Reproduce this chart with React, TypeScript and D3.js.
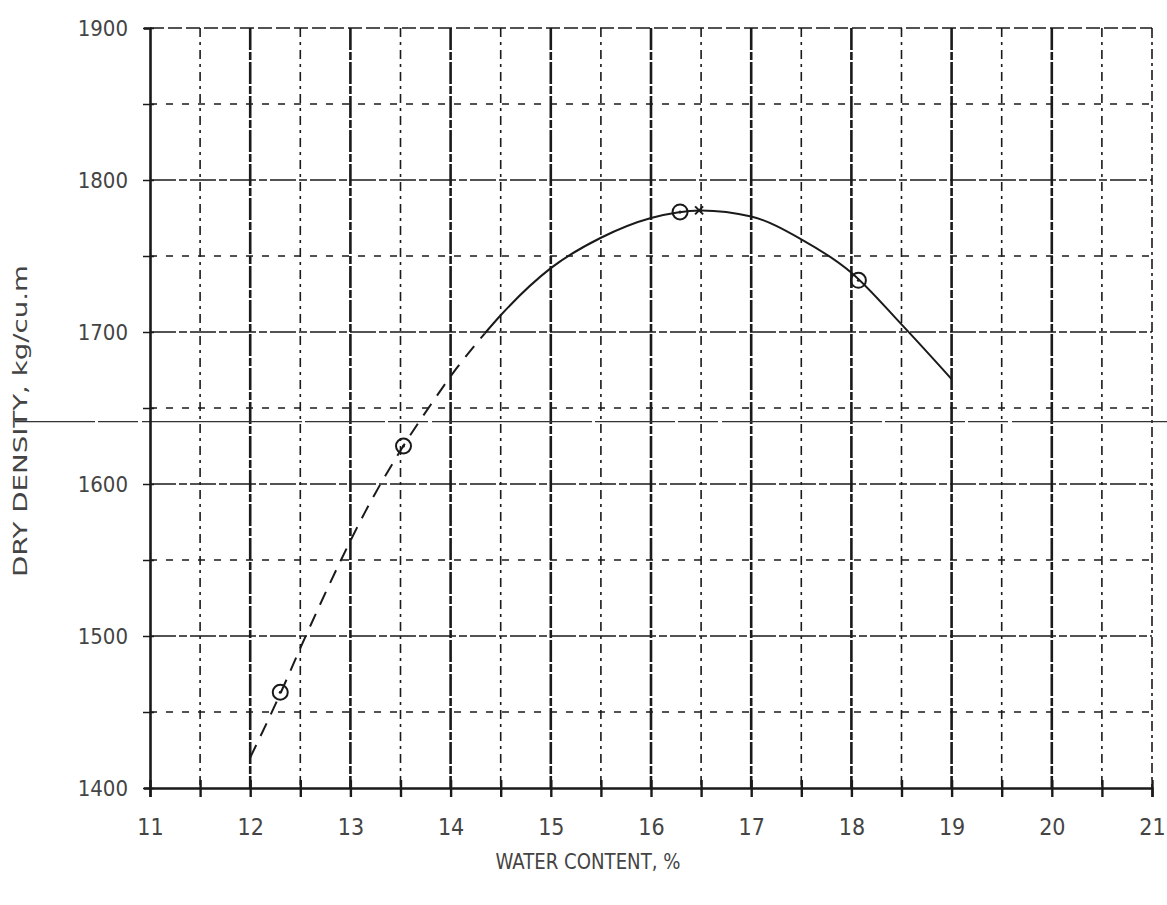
import React, { useRef, useEffect } from "react";
import * as d3 from "d3";

// axis ticks
const waterTicks = [11, 12, 13, 14, 15, 16, 17, 18, 19, 20, 21];
const waterHalfTicks = [11.5, 12.5, 13.5, 14.5, 15.5, 16.5, 17.5, 18.5, 19.5, 20.5];
const densityTicks = [1400, 1500, 1600, 1700, 1800, 1900];
const densityHalfTicks = [1450, 1550, 1650, 1750, 1850];

// compaction curve, dashed (extrapolated) part and solid part
const dashedWater = [12.0, 12.3, 12.5, 12.87, 13.15, 13.5, 13.8, 14.07, 14.34];
const dashedDensity = [1420, 1462, 1492, 1545, 1582, 1622, 1652, 1677, 1699];
const solidWater = [14.34, 14.5, 15, 15.5, 16, 16.5, 17, 17.5, 18, 18.5, 19];
const solidDensity = [1699, 1711, 1742, 1762, 1775, 1780, 1776, 1761, 1739, 1705, 1669];

// test points
const pointWater = [12.3, 13.53, 16.29, 18.07];
const pointDensity = [1463, 1625, 1779, 1734];

// maximum dry density
const maxWater = [16.48];
const maxDensity = [1780];

// the scan has a fold line running across the sheet
const foldDensity = 1641;

const App = () => {
  const svgRef = useRef<SVGSVGElement>(null);

  useEffect(() => {
    document.body.style.margin = "0";
    const w = 1167;
    const h = 905;
    const svg = d3.select(svgRef.current).attr("width", w).attr("height", h);
    svg.selectAll("*").remove();

    const x = d3.scaleLinear().domain([11, 21]).range([150, 1152]);
    const y = d3.scaleLinear().domain([1400, 1900]).range([788, 28]);
    const ink = "#1a1a1a";
    const font = "'DejaVu Sans Condensed', 'DejaVu Sans', sans-serif";

    svg.append("rect").attr("width", w).attr("height", h).attr("fill", "#fff");

    // grid
    const grid = svg.append("g");
    grid
      .selectAll(".vmaj")
      .data(waterTicks.slice(1))
      .join("line")
      .attr("x1", (d) => x(d))
      .attr("x2", (d) => x(d))
      .attr("y1", y(1900))
      .attr("y2", y(1400))
      .attr("stroke", ink)
      .attr("stroke-width", (d) => (d === 21 ? 1.6 : 2.6))
      .attr("stroke-dasharray", (d) => (d === 21 ? "10 4 3 4" : "22 2 8 2"));
    grid
      .selectAll(".vmin")
      .data(waterHalfTicks)
      .join("line")
      .attr("x1", (d) => x(d))
      .attr("x2", (d) => x(d))
      .attr("y1", y(1900))
      .attr("y2", y(1400))
      .attr("stroke", ink)
      .attr("stroke-width", 1.6)
      .attr("stroke-dasharray", "9 5 3 5");
    grid
      .selectAll(".hmaj")
      .data(densityTicks.slice(1))
      .join("line")
      .attr("x1", x(11))
      .attr("x2", x(21))
      .attr("y1", (d) => y(d))
      .attr("y2", (d) => y(d))
      .attr("stroke", ink)
      .attr("stroke-width", 1.5)
      .attr("stroke-dasharray", (d) => (d === 1900 ? "14 4" : "26 3 8 3"));
    grid
      .selectAll(".hmin")
      .data(densityHalfTicks)
      .join("line")
      .attr("x1", x(11))
      .attr("x2", x(21))
      .attr("y1", (d) => y(d))
      .attr("y2", (d) => y(d))
      .attr("stroke", ink)
      .attr("stroke-width", 1.3)
      .attr("stroke-dasharray", "7 9");

    // fold line
    svg
      .append("line")
      .attr("x1", 15)
      .attr("x2", w)
      .attr("y1", y(foldDensity))
      .attr("y2", y(foldDensity))
      .attr("stroke", "#333")
      .attr("stroke-width", 1.3)
      .attr("stroke-dasharray", "80 3 40 4 160 3");

    // axes
    const xAxis = d3
      .axisBottom(x)
      .tickValues([...waterTicks, ...waterHalfTicks])
      .tickSize(9)
      .tickPadding(22)
      .tickFormat((d) => (Number.isInteger(+d) ? String(d) : ""));
    const gx = svg.append("g").attr("transform", `translate(0,${y(1400)})`).call(xAxis);
    gx.select(".domain").attr("stroke", ink).attr("stroke-width", 2.4);
    gx.selectAll(".tick line").attr("y1", -8).attr("y2", 9).attr("stroke", ink).attr("stroke-width", 2.4);
    gx.selectAll(".tick text")
      .attr("fill", "#444")
      .style("font-family", font)
      .style("font-size", "23px");

    const yAxis = d3
      .axisLeft(y)
      .tickValues([...densityTicks, ...densityHalfTicks])
      .tickSize(6)
      .tickPadding(16)
      .tickFormat((d) => (+d % 100 === 0 ? String(d) : ""));
    const gy = svg.append("g").attr("transform", `translate(${x(11)},0)`).call(yAxis);
    gy.select(".domain").attr("stroke", ink).attr("stroke-width", 2.6);
    gy.selectAll(".tick line").attr("x2", -7).attr("x1", 4).attr("stroke", ink).attr("stroke-width", 1.5);
    gy.selectAll(".tick text")
      .attr("fill", "#444")
      .style("font-family", font)
      .style("font-size", "22px");

    // curve
    const path = d3.line().curve(d3.curveMonotoneX);
    const dashedPts: [number, number][] = dashedWater.map((v, i) => [x(v), y(dashedDensity[i])]);
    const solidPts: [number, number][] = solidWater.map((v, i) => [x(v), y(solidDensity[i])]);
    svg
      .append("path")
      .attr("d", path(dashedPts))
      .attr("fill", "none")
      .attr("stroke", ink)
      .attr("stroke-width", 2)
      .attr("stroke-dasharray", "14 10");
    svg
      .append("path")
      .attr("d", path(solidPts))
      .attr("fill", "none")
      .attr("stroke", ink)
      .attr("stroke-width", 2);

    // points
    const pts = svg
      .selectAll(".pt")
      .data(pointWater.map((v, i) => [v, pointDensity[i]]))
      .join("g")
      .attr("transform", (d) => `translate(${x(d[0])},${y(d[1])})`);
    pts.append("circle").attr("r", 7.5).attr("fill", "none").attr("stroke", ink).attr("stroke-width", 2);
    pts.append("circle").attr("r", 1.5).attr("fill", ink);

    svg
      .selectAll(".mx")
      .data(maxWater.map((v, i) => [v, maxDensity[i]]))
      .join("path")
      .attr("transform", (d) => `translate(${x(d[0])},${y(d[1])})`)
      .attr("d", "M-4,-4L4,4M4,-4L-4,4")
      .attr("stroke", ink)
      .attr("stroke-width", 2);

    // titles
    svg
      .append("text")
      .attr("x", 588)
      .attr("y", 869)
      .attr("text-anchor", "middle")
      .attr("textLength", 185)
      .attr("lengthAdjust", "spacingAndGlyphs")
      .attr("fill", "#444")
      .style("font-family", font)
      .style("font-size", "22px")
      .text("WATER CONTENT, %");

    svg
      .append("text")
      .attr("transform", `translate(27,421) rotate(-90)`)
      .attr("text-anchor", "middle")
      .attr("textLength", 312)
      .attr("lengthAdjust", "spacingAndGlyphs")
      .attr("fill", "#444")
      .style("font-family", font)
      .style("font-size", "19px")
      .text("DRY DENSITY, kg/cu.m");
  }, []);

  return <svg ref={svgRef} style={{ display: "block" }}></svg>;
};

export default App;
